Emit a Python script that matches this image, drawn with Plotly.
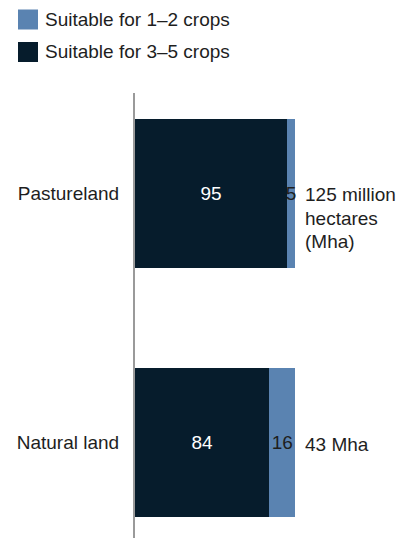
import plotly.graph_objects as go

categories = ["Natural land", "Pastureland"]
series_names = ["Suitable for 3–5 crops", "Suitable for 1–2 crops"]
values_3_5 = [84, 95]
values_1_2 = [16, 5]
total_labels = ["43 Mha", "125 million<br>hectares<br>(Mha)"]

DARK = "#061C2C"
LIGHT = "#5A83B1"
TEXT = "#1E1E1E"
FONT = "Liberation Sans, Arial, sans-serif"
FS = 19
W, H = 410, 538

fig = go.Figure()
fig.add_trace(go.Bar(
    y=categories, x=values_3_5, orientation="h", name=series_names[0],
    marker=dict(color=DARK, line=dict(width=0)),
    text=[str(v) for v in values_3_5], textposition="inside",
    insidetextanchor="middle", constraintext="none", textangle=0,
    insidetextfont=dict(color="white", size=FS, family=FONT),
    showlegend=False, hoverinfo="skip",
))
fig.add_trace(go.Bar(
    y=categories, x=values_1_2, orientation="h", name=series_names[1],
    marker=dict(color=LIGHT, line=dict(width=0)),
    text=[str(v) for v in values_1_2], textposition="inside",
    insidetextanchor="middle", constraintext="none", textangle=0,
    insidetextfont=dict(color=TEXT, size=FS, family=FONT),
    showlegend=False, hoverinfo="skip",
))

# total labels to the right of each bar (one annotation per line, 23.5px line pitch)
for cat, a, b, lab in zip(categories, values_3_5, values_1_2, total_labels):
    for i, line in enumerate(lab.split("<br>")):
        fig.add_annotation(
            x=a + b, y=cat, xref="x", yref="y", text=line, showarrow=False,
            xanchor="left", yanchor="middle", align="left", xshift=8,
            yshift=-1.5 - 23.5 * i,
            font=dict(size=FS, color=TEXT, family=FONT),
        )

# legend (drawn manually for exact square size)
legend_items = [(series_names[1], LIGHT, 19.5), (series_names[0], DARK, 52.0)]
for name, color, cy in legend_items:
    fig.add_shape(
        type="rect", xref="paper", yref="paper",
        x0=18 / W, x1=38 / W, y0=1 - (cy + 10) / H, y1=1 - (cy - 10) / H,
        fillcolor=color, line=dict(width=0),
    )
    fig.add_annotation(
        x=43 / W, y=1 - cy / H, xref="paper", yref="paper", text=name,
        showarrow=False, xanchor="left", yanchor="middle", align="left",
        font=dict(size=FS, color=TEXT, family=FONT),
    )

fig.update_layout(
    width=W, height=H, barmode="stack", bargap=0.4,
    margin=dict(l=0, r=0, t=0, b=0),
    paper_bgcolor="white", plot_bgcolor="white",
    font=dict(family=FONT, size=FS, color=TEXT),
    showlegend=False,
    xaxis=dict(domain=[135 / W, 1], range=[0, (W - 135) / 1.6],
               visible=False, showgrid=False, zeroline=False, fixedrange=True),
    yaxis=dict(domain=[0, (H - 93) / H], type="category",
               categoryorder="array", categoryarray=categories,
               range=[-0.3835, 1.4036], showline=True, linecolor="#9A9A9A",
               linewidth=2, showgrid=False, zeroline=False, ticks="",
               ticklabelstandoff=10,
               tickfont=dict(size=FS, color=TEXT, family=FONT)),
)

fig.write_html("out.html")
